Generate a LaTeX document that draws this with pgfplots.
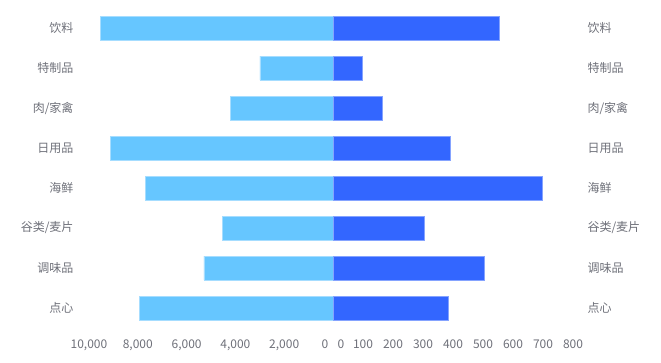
\documentclass[border=0pt]{standalone}
\usepackage{pgfplots}
\pgfplotsset{compat=1.18}
\usepackage{fontspec}
\setmainfont{Noto Sans CJK SC}
\definecolor{leftc}{HTML}{66C6FF}
\definecolor{rightc}{HTML}{3366FF}
\definecolor{lbord}{HTML}{A6DDFF}
\definecolor{rbord}{HTML}{85A3FF}
\definecolor{txt}{HTML}{6E7079}
\begin{document}
\begin{tikzpicture}
\path[use as bounding box] (0pt,0pt) rectangle (661pt,362pt);
\pgfplotsset{
  common/.style={
    scale only axis,
    height=320pt,
    ymin=-0.5, ymax=7.5,
    y dir=reverse,
    ytick={0,...,7},
    yticklabels={饮料,特制品,肉/家禽,日用品,海鲜,谷类/麦片,调味品,点心},
    axis line style={draw=none},
    major tick length=0pt,
    tick style={draw=none},
    font=\fontsize{12}{14}\selectfont,
    tick label style={text=txt},
    scaled x ticks=false,
    /pgf/number format/assume math mode=true,
    /pgf/number format/1000 sep={,},
    xbar, bar width=24pt,
    xmin=0,
    clip=false,
    xticklabel style={yshift=-8pt},
  }
}
% left axis
\begin{axis}[common,
  at={(89pt,34pt)}, anchor=south west,
  width=244pt,
  xmax=10000, x dir=reverse,
  xtick={2000,4000,...,10000},
  extra x ticks={0},
  extra x tick style={xticklabel style={xshift=-8pt}},
  yticklabel style={xshift=-12pt},
]
\addplot[fill=leftc, draw=lbord, line width=0.8pt] coordinates {
(9537,0) (2992,1) (4209,2) (9127,3) (7676,4) (4549,5) (5287,6) (7938,7)};
\end{axis}
% right axis
\begin{axis}[common,
  at={(333pt,34pt)}, anchor=south west,
  width=240pt,
  xmax=800,
  xtick={100,200,...,800},
  extra x ticks={0},
  extra x tick style={xticklabel style={xshift=8pt}},
  yticklabel pos=right,
  yticklabel style={xshift=11pt},
]
\addplot[fill=rightc, draw=rbord, line width=0.8pt] coordinates {
(555,0) (99,1) (163,2) (390,3) (697,4) (305,5) (503,6) (383,7)};
\end{axis}
\end{tikzpicture}
\end{document}
